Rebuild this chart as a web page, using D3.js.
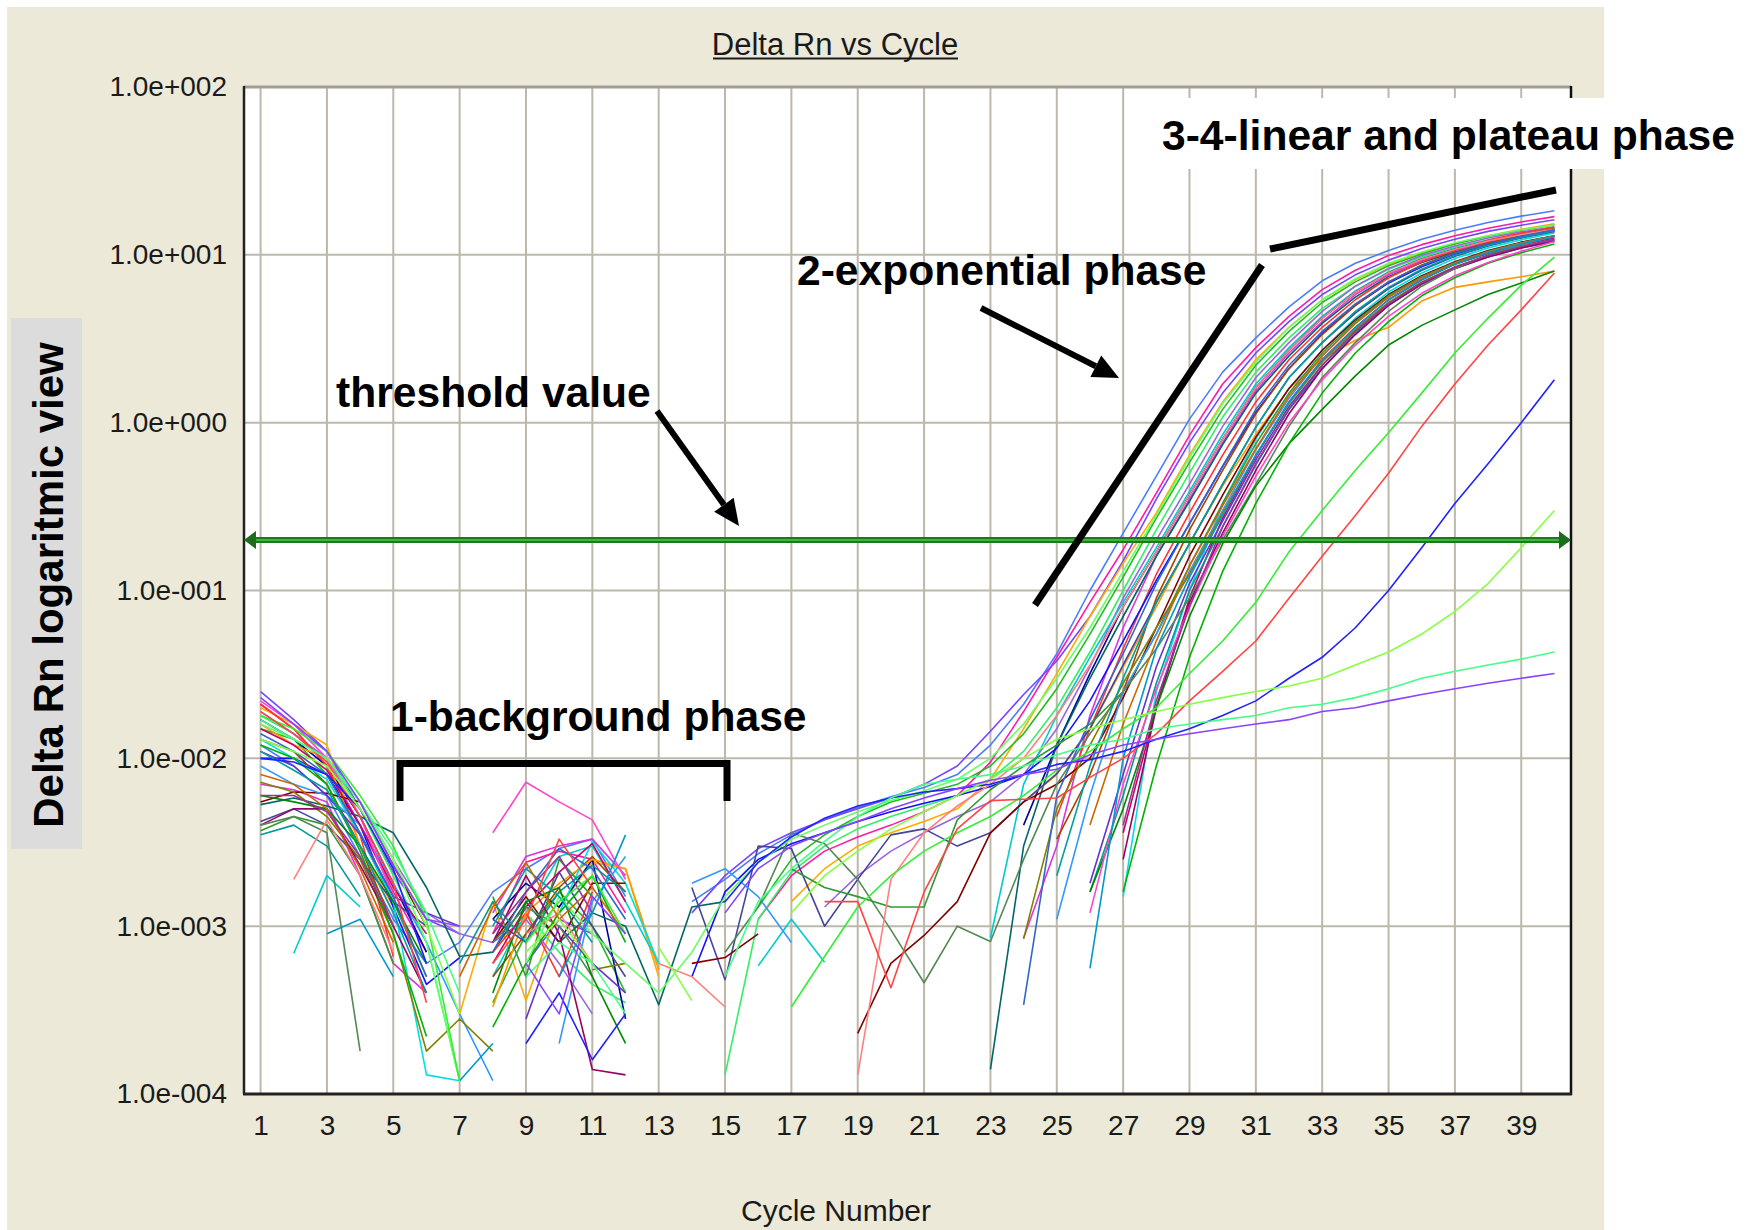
<!DOCTYPE html>
<html>
<head>
<meta charset="utf-8">
<script src="https://cdn.jsdelivr.net/npm/d3@7"></script>
<style>
  body { margin: 0; background: #fff; }
  text { font-family: "Liberation Sans", Arial, sans-serif; }
</style>
</head>
<body>
<div id="chart"></div>
<script>
// missing (<= 0) readings are not drawn on a log axis
const _ = null;

const cycles = [1, 2, 3, 4, 5, 6, 7, 8, 9, 10, 11, 12, 13, 14, 15, 16, 17, 18, 19, 20,
  21, 22, 23, 24, 25, 26, 27, 28, 29, 30, 31, 32, 33, 34, 35, 36, 37, 38, 39, 40];
const xTickValues = [1, 3, 5, 7, 9, 11, 13, 15, 17, 19, 21, 23, 25, 27, 29, 31, 33, 35, 37, 39];
const yTickValues = [1e-4, 1e-3, 1e-2, 1e-1, 1, 10, 100];
const threshold = 0.2;

// Delta Rn per well, cycles 1..40
const wellA = [1.2e-2, 9e-3, 6e-3, 2.6e-3, 1.1e-3, 6e-4, 8e-4, 1.6e-3, 2.2e-3, 2.9e-3,
  3.3e-3, 1.5e-3, _, 1.4e-3, 1.9e-3, 2.7e-3, 3.5e-3, 4.3e-3, 5.1e-3, 5.9e-3,
  6.7e-3, 8e-3, 1.2e-2, 2.1e-2, 4.2e-2, 1e-1, 2.2e-1, 4.8e-1, 1.05, 2.0,
  3.2, 4.9, 7.0, 8.9, 10.6, 12.4, 14.0, 15.6, 17.0, 18.3];
const wellB = [2.1e-2, 1.5e-2, 9e-3, 4e-3, 1.6e-3, 7e-4, _, 9e-4, 2.4e-3, 2.8e-3,
  2.5e-3, 1.2e-3, _, _, _, 1.1e-3, 2e-3, 2.8e-3, 3.4e-3, 4e-3,
  4.8e-3, 6e-3, 9.5e-3, 1.9e-2, 4e-2, 8.5e-2, 1.75e-1, 3.8e-1, 8.4e-1, 1.7,
  2.8, 4.3, 6.2, 8.1, 9.9, 11.5, 13.0, 14.4, 15.7, 16.9];
const wellC = [2.5e-2, 1.7e-2, 1.1e-2, 5e-3, 2.1e-3, 1.1e-3, 9e-4, _, 6e-4, 1.1e-3,
  9e-4, _, _, 1.2e-3, 2e-3, 2.9e-3, 3.6e-3, 4.3e-3, 5e-3, 5.8e-3,
  7e-3, 9e-3, 1.45e-2, 2.4e-2, 3.8e-2, 7e-2, 1.5e-1, 3.5e-1, 7.6e-1, 1.5,
  2.6, 4.0, 5.8, 7.6, 9.3, 10.9, 12.4, 13.8, 15.0, 16.2];
const wellD = [2e-2, 1.6e-2, 1.2e-2, 3e-3, 1.3e-3, _, 3e-4, 1.4e-3, 3.6e-4, 1.3e-3,
  2.4e-3, 2.2e-3, 5e-4, _, _, _, 1.4e-3, 2.2e-3, 3e-3, 3.6e-3,
  4.2e-3, 5e-3, 7.5e-3, 1.5e-2, 3.2e-2, 7e-2, 1.45e-1, 2.9e-1, 6.4e-1, 1.33,
  2.37, 3.7, 5.4, 7.1, 8.8, 10.3, 11.7, 13.0, 14.2, 15.3];
const wellE = [1.5e-2, 1.3e-2, 8e-3, 3.5e-3, 1.4e-3, 5e-4, _, 3.5e-4, 9e-4, 1.6e-3,
  1e-3, 4e-4, _, _, _, 1.3e-3, 2.5e-3, 3.5e-3, 4.5e-3, 5.5e-3,
  6.2e-3, 7e-3, 9e-3, 1.4e-2, 2.6e-2, 5.5e-2, 1.2e-1, 2.7e-1, 5.8e-1, 1.2,
  2.2, 3.5, 5.2, 6.9, 8.6, 10.1, 11.6, 12.9, 14.0, 15.1];
const wellF = [1.8e-2, 1.4e-2, 1e-2, 5e-3, 2e-3, 8e-4, 1.2e-4, _, 1.2e-3, 7e-4,
  4.5e-4, 3.5e-4, _, _, 1.3e-4, 1.1e-3, 2.1e-3, 3e-3, 3.8e-3, 4.5e-3,
  5.2e-3, 6e-3, 7.5e-3, 1.1e-2, 2e-2, 4.3e-2, 1e-1, 2.3e-1, 5e-1, 1.08,
  2.0, 3.2, 4.8, 6.5, 8.2, 9.7, 11.1, 12.3, 13.4, 14.4];
const wellG = [1.9e-2, 1.4e-2, 1e-2, 5.5e-3, 2.5e-3, 1.2e-3, 9e-4, 8e-4, 1.1e-3, 6e-4,
  3e-4, _, _, _, _, _, _, 1.3e-3, 2e-3, 2.8e-3,
  3.6e-3, 4.5e-3, 5.5e-3, 8e-3, 1.5e-2, 3.5e-2, 9e-2, 2e-1, 4.3e-1, 9.5e-1,
  1.86, 3.0, 4.6, 6.5, 8.3, 9.9, 11.3, 12.6, 13.7, 14.7];
const wellH = [_, 6.9e-4, 2e-3, 1.3e-3, _, _, _, 5e-4, 1.2e-3, 2.6e-3,
  3e-3, 1.4e-3, 6e-4, _, _, 5.8e-4, 1.1e-3, 6.1e-4, _, _,
  _, _, 8.5e-4, 7e-3, 1.8e-2, 4e-2, 8.5e-2, 1.8e-1, 3.9e-1, 8.5e-1,
  1.7, 2.8, 4.3, 6.1, 7.9, 9.5, 10.9, 12.2, 13.3, 14.3];
const wellI = [1.7e-2, 1.3e-2, 9e-3, 4.5e-3, 1.8e-3, 7e-4, _, 1.1e-3, 1.8e-3, 1.3e-3,
  2.5e-3, 2.8e-4, _, _, _, _, _, _, _, _,
  _, _, _, 4e-3, 1.2e-2, 3.2e-2, 8e-2, 1.7e-1, 3.7e-1, 8e-1,
  1.62, 2.7, 4.2, 6.0, 7.8, 9.4, 10.8, 12.1, 13.2, 14.2];
const wellJ = [7e-3, 6.5e-3, 5.5e-3, 2e-3, 6e-4, 4e-4, _, 1.2e-3, 2.6e-3, 3e-3,
  3.3e-3, 2e-3, _, _, _, _, _, _, _, _,
  _, _, _, 8.5e-4, 3e-3, 1.8e-2, 6e-2, 1.6e-1, 3.5e-1, 7.6e-1,
  1.55, 2.6, 4.0, 5.8, 7.6, 9.2, 10.6, 11.9, 13.0, 14.0];
const wellK = [5.3e-3, 5.8e-3, 5.2e-3, 4.5e-3, 3.6e-3, 1.7e-3, 6.6e-4, 7e-4, 1.4e-3, 8e-4,
  1.2e-3, 1e-3, 3.4e-4, 1.3e-3, 1.4e-3, _, _, _, _, _,
  _, _, 1.4e-4, 3e-3, 1.2e-2, 3e-2, 7e-2, 1.6e-1, 3.4e-1, 7.4e-1,
  1.5, 2.5, 3.9, 5.6, 7.4, 9.0, 10.4, 11.7, 12.8, 13.8];
const wellL = [2.1e-2, 1.5e-2, 9e-3, 3.5e-3, 6.6e-4, _, _, 7e-4, 1.2e-3, 5e-4,
  1.6e-3, _, _, _, _, _, _, _, _, _,
  _, _, _, _, 4.5e-3, 1.5e-2, 4.5e-2, 1.25e-1, 2.9e-1, 6.4e-1,
  1.33, 2.37, 3.7, 5.4, 7.3, 9.1, 10.7, 12.2, 13.5, 14.6];
const wellM = [1e-2, 1e-2, 8e-3, 4e-3, 1.3e-3, 4.5e-4, 6.5e-4, _, _, _,
  _, _, _, 5e-4, 1.6e-3, 2.5e-3, 3.1e-3, 3.6e-3, 4.2e-3, 4.8e-3,
  5.4e-3, 6e-3, 6.8e-3, 8e-3, 1.15e-2, 2.2e-2, 5e-2, 1.15e-1, 2.5e-1, 5.5e-1,
  1.15, 2.1, 3.4, 5.0, 6.8, 8.5, 10.1, 11.5, 12.8, 14.0];
const wellN = [1.3e-2, 1.1e-2, 7e-3, 3e-3, 1e-3, _, _, 5e-4, 9e-4, 1.7e-3,
  2.6e-3, 1.6e-3, _, _, _, _, _, _, _, _,
  _, _, _, _, 3.3e-3, 8e-3, 2.5e-2, 9e-2, 2.3e-1, 5.2e-1,
  1.13, 2.1, 3.35, 5.0, 6.9, 8.7, 10.3, 11.8, 13.1, 14.3];
const wellO = [1.6e-2, 1.2e-2, 1e-2, 3e-3, 1.2e-3, _, _, 3.3e-4, 1.2e-3, 1.8e-3,
  2.5e-3, 2.2e-3, 5.5e-4, _, _, _, _, _, _, _,
  _, _, _, 5.5e-3, 8e-3, 1.5e-2, 3.5e-2, 8e-2, 1.9e-1, 4.2e-1,
  8.5e-1, 1.6, 2.4, 3.1, 3.7, 5.3, 6.4, 6.9, 7.4, 8.0];
const wellP = [4.2e-3, 5e-3, 4e-3, 2.5e-3, 1.4e-3, 1e-3, _, 1.1e-3, 8e-4, 2.1e-3,
  1e-3, 5e-4, _, 1.7e-3, 4.8e-4, 3e-3, 2.9e-3, 1e-3, 1.9e-3, 3.5e-3,
  3.8e-3, 3e-3, 3.6e-3, 5.5e-3, 8.1e-3, 1.5e-2, 3.6e-2, 8.5e-2, 1.9e-1, 4.3e-1,
  9.4e-1, 1.86, 3.0, 4.5, 6.3, 8.1, 9.8, 11.3, 12.6, 13.7];
const wellQ = [1.3e-2, 1e-2, 7.5e-3, 3.5e-3, 1.4e-3, 1.3e-4, 1.2e-4, _, _, 1.2e-3,
  3.2e-3, 1.8e-3, 6e-4, _, _, _, _, _, _, _,
  _, _, _, _, _, _, 1.5e-3, 2.5e-2, 1e-1, 3.3e-1,
  8e-1, 1.6, 2.7, 4.2, 6.0, 7.8, 9.5, 11.0, 12.3, 13.5];
const wellR = [5.5e-3, 6.3e-3, 6.2e-3, 5.5e-3, 2.3e-3, 1e-3, _, 8e-4, 1.5e-3, 8e-4,
  1.8e-3, 1.8e-3, _, 6e-4, 6.5e-4, 9e-4, _, _, 2.3e-4, 6e-4,
  8.8e-4, 1.4e-3, 3.6e-3, 5.5e-3, 7e-3, 1e-2, 2.3e-2, 6e-2, 1.6e-1, 3.7e-1,
  8.2e-1, 1.6, 2.7, 4.1, 5.8, 7.5, 9.1, 10.6, 11.9, 13.0];
const wellS = [3.7e-3, 4.5e-3, 4e-3, 2e-3, 6e-4, _, _, 1.5e-3, 5e-4, 2.5e-3,
  1.5e-3, _, _, _, _, _, 2.2e-3, 1.7e-3, 1.5e-3, 1.3e-3,
  1.3e-3, 4.3e-3, 6.5e-3, 9e-3, 1.2e-2, 1.6e-2, 2.5e-2, 5.5e-2, 1.4e-1, 3.3e-1,
  7.5e-1, 1.5, 2.6, 4.0, 5.7, 7.4, 9.0, 10.5, 11.8, 13.0];
const wellT = [9e-3, 7e-3, 6e-3, 4e-3, 1.8e-3, 8e-4, 3e-4, 1.2e-4, _, 2e-4,
  1.4e-3, 2.6e-3, _, 1.8e-3, 2.2e-3, 1.5e-3, 8e-4, _, _, _,
  _, _, _, _, 1.1e-3, 6e-3, 2.5e-2, 5.5e-2, 1.3e-1, 3e-1,
  6.9e-1, 1.4, 2.5, 3.9, 5.6, 7.3, 8.9, 10.4, 11.7, 12.9];
const wellU = [1.5e-2, 1.2e-2, 8.5e-3, 4e-3, 1.7e-3, 9e-4, _, 6e-4, 1.3e-3, 2.1e-3,
  3.1e-3, 1.4e-3, _, _, _, _, _, _, _, _,
  _, _, _, _, _, _, 3.6e-3, 2e-2, 9e-2, 2.7e-1,
  6.3e-1, 1.33, 2.37, 3.7, 5.4, 7.1, 8.8, 10.2, 11.5, 12.6];
const wellV = [7.2e-3, 6.3e-3, 4.5e-3, 2.5e-3, 9e-4, 1.8e-4, 2.8e-4, 1.8e-4, _, _,
  5.5e-4, 6e-4, _, _, _, _, _, _, _, _,
  _, _, _, 8.4e-4, 5e-3, 1.2e-2, 2.8e-2, 6e-2, 1.25e-1, 2.9e-1,
  6.4e-1, 1.3, 2.3, 3.6, 5.2, 6.9, 8.5, 9.9, 11.2, 12.3];
const wellW = [1.1e-2, 9e-3, 6e-3, 3.5e-3, 1.5e-3, 1.2e-3, 1e-3, _, 2.8e-4, 1e-3,
  6e-4, 4e-4, _, _, _, _, _, _, _, _,
  _, _, _, _, _, 1.8e-3, 8e-3, 3.5e-2, 1.1e-1, 2.6e-1,
  6e-1, 1.25, 2.2, 3.5, 5.1, 6.8, 8.4, 9.8, 11.1, 12.2];
const wellX = [3.5e-3, 4e-3, 3e-3, 1.5e-3, _, _, 6e-4, 1.4e-3, 8e-4, 1.6e-3,
  2.3e-3, 1.6e-3, _, _, _, _, _, _, _, _,
  _, _, _, _, _, 1.6e-3, 6e-3, 2.8e-2, 1e-1, 2.4e-1,
  5.6e-1, 1.2, 2.1, 3.4, 5.0, 6.7, 8.3, 9.7, 11.0, 12.1];
const wellY = [4e-3, 5e-3, 5e-3, 2.3e-3, 1e-3, 4e-4, _, 8e-4, 2e-3, 9e-4,
  1.4e-4, 1.3e-4, _, _, _, _, _, _, _, _,
  _, _, _, _, _, _, 2.5e-3, 2e-2, 8.5e-2, 2.2e-1,
  5.2e-1, 1.13, 2.1, 3.35, 5.0, 6.7, 8.3, 9.7, 11.0, 12.0];
const wellZ = [4e-3, 4.5e-3, 3.6e-3, 1.8e-4, _, _, _, 8e-4, 1.3e-3, 1e-3,
  5e-4, _, _, _, 7e-4, 1.3e-3, 3.6e-3, 3.1e-3, 1.9e-3, 9.5e-4,
  4.6e-4, 1e-3, 8.1e-4, 2.5e-3, 7e-3, 1.4e-2, 2.5e-2, 4.5e-2, 9e-2, 2e-1,
  4.3e-1, 9.5e-1, 1.86, 3.0, 4.6, 6.5, 8.3, 10.0, 11.5, 12.9];
const wellAA = [6e-3, 5.5e-3, 5e-3, 3e-3, 1.4e-3, 6e-4, _, 4e-4, 1.4e-3, 1.7e-3,
  5e-4, 2e-4, _, _, _, _, _, _, _, _,
  _, _, _, _, _, 1.6e-3, 5e-3, 2e-2, 7e-2, 1.9e-1,
  4.2e-1, 7.5e-1, 1.2, 1.9, 2.9, 3.8, 4.7, 5.8, 6.8, 8.0];
const wellAB = [1.2e-2, 1e-2, 7e-3, 2.8e-3, 9e-4, 2.2e-4, _, 2.5e-4, 6e-4, 1.2e-3,
  2e-3, 8e-4, _, _, _, _, _, _, _, _,
  _, _, _, _, _, _, 1.6e-3, 9e-3, 4e-2, 1.3e-1,
  3.3e-1, 7.5e-1, 1.5, 2.6, 4.0, 5.7, 7.3, 8.9, 10.3, 11.6];
const wellAC = [2.2e-2, 1.6e-2, 1e-2, 4.5e-3, 1.5e-3, _, _, 3.6e-3, 7.2e-3, 5.5e-3,
  4.3e-3, 1.9e-3, _, _, _, _, _, _, _, _,
  _, _, _, _, _, 1.2e-3, 7e-3, 2.6e-2, 8e-2, 2.1e-1,
  4.8e-1, 1.0, 1.8, 2.9, 4.3, 5.9, 7.5, 9.0, 10.5, 12.0];
const wellAD = [_, 1.9e-3, 4.3e-3, 2e-3, 7e-4, _, _, _, 9e-4, 1.2e-3,
  6e-4, _, 6e-4, 5e-4, 3.3e-4, _, _, _, 1.3e-4, 1.9e-3,
  3.6e-3, 5.2e-3, 7e-3, 1e-2, 1.8e-2, 3.6e-2, 8e-2, 1.7e-1, 3.7e-1, 8e-1,
  1.62, 2.7, 4.2, 6.0, 7.8, 9.4, 10.8, 12.1, 13.2, 14.2];
const wellAE = [1.6e-2, 1.3e-2, 1e-2, 5.5e-3, 2.5e-3, 8e-4, 1.2e-4, _, 6e-4, 1.5e-3,
  9e-4, 6e-4, 4e-4, 7e-4, 1.5e-3, 2.4e-3, 3.3e-3, 4e-3, 4.8e-3, 5.6e-3,
  6.4e-3, 7.5e-3, 1e-2, 1.6e-2, 3e-2, 6e-2, 1.3e-1, 2.8e-1, 6.2e-1, 1.3,
  2.3, 3.7, 5.4, 7.2, 8.9, 10.4, 11.8, 13.0, 14.1, 15.1];
const wellAF = [1.1e-2, 8.5e-3, 6.5e-3, 3e-3, 1.2e-3, 4e-4, _, 1e-3, 2.2e-3, 1.5e-3,
  8e-4, _, _, _, _, _, _, _, _, _,
  _, _, _, _, 2e-3, 9e-3, 3e-2, 8.5e-2, 1.9e-1, 4.3e-1,
  9.4e-1, 1.86, 3.0, 4.6, 6.4, 8.2, 9.9, 11.4, 12.7, 13.9];
const wellAG = [8e-3, 7e-3, 5e-3, 2.2e-3, 8e-4, _, 5e-4, 1.3e-3, 2.4e-3, 1.1e-3,
  1.7e-3, 9e-4, _, _, _, _, _, _, _, _,
  _, _, _, _, _, 4e-3, 1.6e-2, 5e-2, 1.4e-1, 3.2e-1,
  7e-1, 1.45, 2.5, 3.9, 5.6, 7.3, 8.9, 10.4, 11.7, 12.9];
const wellAH = [1.4e-2, 1.1e-2, 8e-3, 3.6e-3, 1.5e-3, 5e-4, _, 7e-4, 1.6e-3, 2.9e-3,
  2.2e-3, 1.1e-3, _, _, _, _, _, _, _, _,
  _, _, _, 3.4e-4, 6e-3, 1.7e-2, 4.2e-2, 1.1e-1, 2.5e-1, 5.5e-1,
  1.2, 2.2, 3.5, 5.1, 6.9, 8.6, 10.2, 11.6, 12.9, 14.1];
const wellAI = [6e-3, 6e-3, 4.8e-3, 2.6e-3, 1e-3, _, _, 9e-4, 1.6e-3, 2.6e-3,
  1.2e-3, _, _, _, _, _, _, _, _, _,
  _, _, _, _, _, _, 4e-3, 2.2e-2, 8e-2, 2.4e-1,
  5.7e-1, 1.2, 2.2, 3.5, 5.1, 6.8, 8.4, 9.9, 11.2, 12.4];
const wellAJ = [_, _, 9e-4, 1.1e-3, 5e-4, _, 1.2e-4, 2e-4, _, 5e-4,
  1.2e-3, 3.5e-3, _, _, _, _, _, _, _, _,
  _, _, _, _, _, 5.6e-4, 1e-2, 4.5e-2, 1.2e-1, 2.8e-1,
  6.4e-1, 1.33, 2.37, 3.7, 5.4, 7.1, 8.8, 10.3, 11.6, 12.8];
// late and non-amplifying wells
const wellLateGreen = [1.8e-2, 1.5e-2, 1.1e-2, 6e-3, 3e-3, 1.1e-3, 1.2e-4, _, 8e-4, 1.4e-3,
  2e-3, 9e-4, _, _, _, _, 3.3e-4, 6.6e-4, 1.3e-3, 2e-3,
  2.8e-3, 3.6e-3, 4.5e-3, 6e-3, 8.5e-3, 1.1e-2, 1.5e-2, 2e-2, 3.2e-2, 5e-2,
  8.5e-2, 1.7e-1, 3e-1, 5.2e-1, 8.7e-1, 1.5, 2.6, 4.2, 6.6, 9.7];
const wellLateRed = [1.9e-2, 1.4e-2, 9.5e-3, 4.5e-3, 1.8e-3, 3.5e-4, _, 6e-4, 1.1e-3, 3.3e-3,
  1.7e-3, _, _, _, _, _, _, 1.4e-3, 1.4e-3, 4.3e-4,
  1.6e-3, 3.8e-3, 5.6e-3, 5.7e-3, 5.8e-3, 7.7e-3, 1e-2, 1.4e-2, 2.2e-2, 3.3e-2,
  5e-2, 9e-2, 1.6e-1, 2.8e-1, 5e-1, 9.5e-1, 1.7, 2.9, 4.7, 7.8];
const wellLateBlue = [1e-2, 9.5e-3, 8e-3, 5e-3, 2.2e-3, 6e-4, _, _, 2e-4, 4e-4,
  1.6e-4, 3e-4, _, _, 1.4e-3, 2.4e-3, 3.4e-3, 4.4e-3, 5.2e-3, 5.8e-3,
  6.3e-3, 6.6e-3, 7e-3, 8e-3, 9.2e-3, 9.8e-3, 1.1e-2, 1.3e-2, 1.5e-2, 1.8e-2,
  2.2e-2, 3e-2, 4e-2, 6e-2, 1e-1, 1.8e-1, 3.3e-1, 5.7e-1, 1.0, 1.8];
const wellLateLime = [1.3e-2, 1.1e-2, 9e-3, 5e-3, 2.5e-3, 1e-3, 3e-4, _, 7e-4, 1.1e-3,
  6e-4, _, 7.5e-4, 3.6e-4, _, _, 1.2e-3, 2e-3, 2.8e-3, 3.8e-3,
  4.8e-3, 6e-3, 7.5e-3, 1e-2, 1.3e-2, 1.5e-2, 1.7e-2, 1.9e-2, 2.1e-2, 2.3e-2,
  2.5e-2, 2.7e-2, 3e-2, 3.6e-2, 4.3e-2, 5.5e-2, 7.5e-2, 1.1e-1, 1.8e-1, 3e-1];
const wellFlatGreen = [1.7e-2, 1.3e-2, 1e-2, 5.5e-3, 2.8e-3, 1.2e-3, 4e-4, _, 5e-4, 8e-4,
  6e-4, 3e-4, _, _, 5e-4, 1.4e-3, 2.2e-3, 3.2e-3, 4.5e-3, 5.8e-3,
  7e-3, 7.5e-3, 8e-3, 9e-3, 1.05e-2, 1.2e-2, 1.3e-2, 1.5e-2, 1.6e-2, 1.7e-2,
  1.8e-2, 2e-2, 2.1e-2, 2.3e-2, 2.6e-2, 3e-2, 3.3e-2, 3.6e-2, 3.9e-2, 4.3e-2];
const wellFlatPurple = [2.3e-2, 1.6e-2, 1.1e-2, 5.5e-3, 2.3e-3, 1.1e-3, 1e-3, _, 6e-4, 3e-4,
  1.5e-3, 9e-4, _, _, 1.2e-3, 2.2e-3, 3e-3, 3.6e-3, 4.2e-3, 5e-3,
  5.8e-3, 6.6e-3, 7.4e-3, 8e-3, 8.6e-3, 1.05e-2, 1.2e-2, 1.3e-2, 1.4e-2, 1.5e-2,
  1.6e-2, 1.7e-2, 1.9e-2, 2e-2, 2.2e-2, 2.4e-2, 2.6e-2, 2.8e-2, 3e-2, 3.2e-2];

const wells = [wellA, wellB, wellC, wellD, wellE, wellF, wellG, wellH, wellI, wellJ,
  wellK, wellL, wellM, wellN, wellO, wellP, wellQ, wellR, wellS, wellT,
  wellU, wellV, wellW, wellX, wellY, wellZ, wellAA, wellAB, wellAC, wellAD, wellAE,
  wellAF, wellAG, wellAH, wellAI, wellAJ,
  wellLateGreen, wellLateRed, wellLateBlue, wellLateLime, wellFlatGreen, wellFlatPurple];
const wellColors = ['#4a7dff', '#ff1aa8', '#7744ff', '#ffaa00', '#22bb22', '#33ee66', '#9966dd',
  '#00cccc', '#000099', '#dd33dd', '#006666', '#ff3333', '#1111ff', '#aa4400', '#ff9900',
  '#444499', '#00e0e0', '#800000', '#339933', '#3399ff', '#cc0066', '#808000', '#6633cc',
  '#009999', '#990066', '#558855', '#008800', '#00b300', '#ff44cc', '#ff8080', '#66ff66',
  '#00a0a0', '#cc6600', '#3366cc', '#993399', '#0099cc',
  '#33ee33', '#ff4444', '#2222ff', '#88ff44', '#44ff88', '#8844ff'];

const width = 1756, height = 1230;
const plot = {left: 244, right: 1571, top: 87, bottom: 1094};
const gridColor = '#bcb8aa';

const svg = d3.select('#chart').append('svg')
    .attr('width', width)
    .attr('height', height);

svg.append('rect').attr('width', width).attr('height', height).attr('fill', '#fff');
svg.append('rect')
    .attr('x', 7).attr('y', 7)
    .attr('width', 1597).attr('height', height - 7)
    .attr('fill', '#ece9d8');

const x = d3.scaleLinear().domain([0.5, 40.5]).range([plot.left, plot.right]);
const y = d3.scaleLog().domain([1e-4, 100]).range([plot.bottom, plot.top]);

svg.append('rect')
    .attr('x', plot.left).attr('y', plot.top)
    .attr('width', plot.right - plot.left).attr('height', plot.bottom - plot.top)
    .attr('fill', '#fff');

svg.append('defs').append('clipPath').attr('id', 'plot-clip')
  .append('rect')
    .attr('x', plot.left).attr('y', plot.top)
    .attr('width', plot.right - plot.left).attr('height', plot.bottom - plot.top);

// grid
const grid = svg.append('g').attr('stroke', gridColor).attr('stroke-width', 2);
grid.selectAll('.vg').data(xTickValues).join('line')
    .attr('x1', d => x(d)).attr('x2', d => x(d))
    .attr('y1', plot.top).attr('y2', plot.bottom);
grid.selectAll('.hg').data(yTickValues).join('line')
    .attr('x1', plot.left).attr('x2', plot.right)
    .attr('y1', d => y(d)).attr('y2', d => y(d));

// axes
const expFormat = v => {
  const e = Math.round(Math.log10(v));
  return `1.0e${e < 0 ? '-' : '+'}${String(Math.abs(e)).padStart(3, '0')}`;
};

svg.append('g')
    .attr('transform', `translate(${plot.left},0)`)
    .call(d3.axisLeft(y).tickValues(yTickValues).tickFormat(expFormat).tickSize(0).tickPadding(17))
    .call(g => g.select('.domain').remove())
    .attr('font-family', '"Liberation Sans", Arial, sans-serif')
    .attr('font-size', 28)
    .selectAll('text').attr('fill', '#1a1a1a');

svg.append('g')
    .attr('transform', `translate(0,${plot.bottom})`)
    .call(d3.axisBottom(x).tickValues(xTickValues).tickFormat(d3.format('d')).tickSize(0).tickPadding(21))
    .call(g => g.select('.domain').remove())
    .attr('font-family', '"Liberation Sans", Arial, sans-serif')
    .attr('font-size', 28)
    .selectAll('text').attr('fill', '#1a1a1a');

// curves
const line = d3.line()
    .defined(d => d[1] != null)
    .x(d => x(d[0]))
    .y(d => y(d[1]));

svg.append('g')
    .attr('clip-path', 'url(#plot-clip)')
  .selectAll('path')
  .data(wells)
  .join('path')
    .attr('d', w => line(w.map((v, i) => [cycles[i], v])))
    .attr('fill', 'none')
    .attr('stroke', (w, i) => wellColors[i])
    .attr('stroke-width', 1.6)
    .attr('stroke-linejoin', 'round');

// frame
svg.append('line').attr('x1', plot.left).attr('x2', plot.right).attr('y1', plot.top).attr('y2', plot.top)
    .attr('stroke', '#a29e92').attr('stroke-width', 3);
svg.append('line').attr('x1', plot.left).attr('x2', plot.left).attr('y1', plot.top - 1).attr('y2', plot.bottom)
    .attr('stroke', '#222').attr('stroke-width', 2.5);
svg.append('line').attr('x1', plot.right).attr('x2', plot.right).attr('y1', plot.top - 1).attr('y2', plot.bottom + 1)
    .attr('stroke', '#111').attr('stroke-width', 2.5);
svg.append('line').attr('x1', plot.left - 1).attr('x2', plot.right + 1).attr('y1', plot.bottom).attr('y2', plot.bottom)
    .attr('stroke', '#222').attr('stroke-width', 3);

// threshold
const ty = y(threshold);
svg.append('line')
    .attr('x1', plot.left + 6).attr('x2', plot.right - 6).attr('y1', ty).attr('y2', ty)
    .attr('stroke', '#1c7a1c').attr('stroke-width', 6);
svg.append('line')
    .attr('x1', plot.left + 6).attr('x2', plot.right - 6).attr('y1', ty).attr('y2', ty)
    .attr('stroke', '#3fb43f').attr('stroke-width', 2);
svg.append('path')
    .attr('d', `M${plot.left},${ty} l12,-9 v18 Z M${plot.right},${ty} l-12,-9 v18 Z`)
    .attr('fill', '#1c6e1c');

// titles
svg.append('text')
    .attr('x', 835).attr('y', 55)
    .attr('text-anchor', 'middle')
    .attr('font-size', 31)
    .attr('fill', '#1a1a1a')
    .text('Delta Rn vs Cycle');
svg.append('line')
    .attr('x1', 713).attr('x2', 958).attr('y1', 58.5).attr('y2', 58.5)
    .attr('stroke', '#1a1a1a').attr('stroke-width', 2);

svg.append('text')
    .attr('x', 836).attr('y', 1221)
    .attr('text-anchor', 'middle')
    .attr('font-size', 30)
    .attr('fill', '#1a1a1a')
    .text('Cycle Number');

svg.append('rect')
    .attr('x', 11).attr('y', 318).attr('width', 71).attr('height', 531)
    .attr('fill', '#dcdcdc');
svg.append('text')
    .attr('transform', 'translate(63,585) rotate(-90)')
    .attr('text-anchor', 'middle')
    .attr('font-size', 42)
    .attr('font-weight', 'bold')
    .attr('fill', '#000')
    .text('Delta Rn logaritmic view');

// annotations
svg.append('rect')
    .attr('x', 1150).attr('y', 98).attr('width', 606).attr('height', 71)
    .attr('fill', '#fff');

const note = svg.append('g')
    .attr('font-size', 42.6)
    .attr('font-weight', 'bold')
    .attr('fill', '#000');

note.append('text').attr('x', 336).attr('y', 407).text('threshold value');
note.append('text').attr('x', 797).attr('y', 285).text('2-exponential phase');
note.append('text').attr('x', 1162).attr('y', 150).text('3-4-linear and plateau phase');
note.append('text').attr('x', 390).attr('y', 731).text('1-background phase');

const arrow = (x1, y1, x2, y2) => {
  const a = Math.atan2(y2 - y1, x2 - x1);
  const len = 26, hw = 12;
  const bx = x2 - len * Math.cos(a), by = y2 - len * Math.sin(a);
  svg.append('line')
      .attr('x1', x1).attr('y1', y1).attr('x2', bx).attr('y2', by)
      .attr('stroke', '#000').attr('stroke-width', 6);
  svg.append('path')
      .attr('d', `M${x2},${y2} L${bx + hw * Math.sin(a)},${by - hw * Math.cos(a)} L${bx - hw * Math.sin(a)},${by + hw * Math.cos(a)} Z`)
      .attr('fill', '#000');
};
arrow(657, 411, 739, 526);
arrow(981, 308, 1119, 378);

svg.append('line').attr('x1', 1035).attr('y1', 605).attr('x2', 1262).attr('y2', 265)
    .attr('stroke', '#000').attr('stroke-width', 7);
svg.append('line').attr('x1', 1270).attr('y1', 249).attr('x2', 1556).attr('y2', 190)
    .attr('stroke', '#000').attr('stroke-width', 7);

svg.append('path')
    .attr('d', 'M400,801 V763.5 H727 V801')
    .attr('fill', 'none')
    .attr('stroke', '#000')
    .attr('stroke-width', 7);
</script>
</body>
</html>
